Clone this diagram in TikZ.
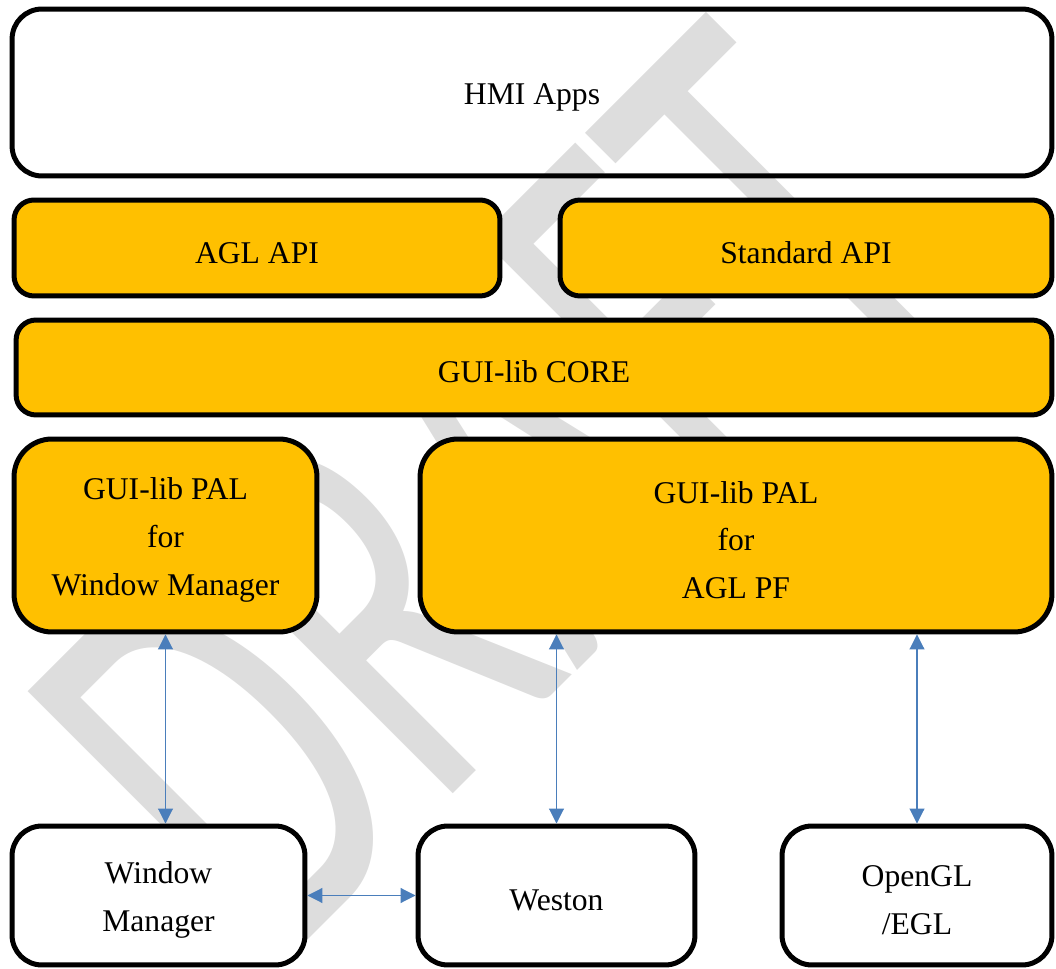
\documentclass[tikz,border=0pt]{standalone}
\usepackage{fontspec}
\setmainfont{Liberation Serif}
\newfontfamily\draftfont{Carlito}
\usetikzlibrary{arrows.meta}
\definecolor{amber}{RGB}{255,192,0}
\definecolor{linkblue}{RGB}{74,126,187}
\definecolor{draftgray}{RGB}{221,221,221}
\newcommand{\lift}{\rule{0pt}{0.98em}}% first line sits a bit lower
\tikzset{
  layer/.style = {align=center, inner sep=0pt, text centered, draw=black,
    line width=0.1cm, font=\fontsize{18}{27.2}\selectfont},
  hmi_box/.style = {layer, rectangle, rounded corners=0.6cm,
    minimum width=20.8cm, minimum height=3.34cm},% apps, no fill
  api_box/.style = {layer, rectangle, rounded corners=0.4cm, fill=amber,
    minimum height=1.92cm},
  pal_box/.style = {layer, rectangle, rounded corners=0.76cm, fill=amber,
    minimum height=3.86cm},
  low_box/.style = {layer, rectangle, rounded corners=0.6cm, fill=white,
    minimum height=2.78cm},% platform pieces
  link/.style = {linkblue, line width=0.6pt, <->,
    >={Triangle[length=0.3cm,width=0.3cm]}},
}
\begin{document}
\begin{tikzpicture}[x=0.02cm,y=-0.02cm]
  \useasboundingbox (0,0) rectangle (1056,969);

  % watermark
  \begin{scope}[shift={(492,491)}]
    \node[text=draftgray, inner sep=0pt, font=\draftfont\fontsize{210}{210}\selectfont,
      rotate=45, yscale=1.578, transform shape] (draft) at (0,0) {DRAFT};
  \end{scope}

  \node[hmi_box] (hmi) at (532,92.5) {\lift HMI Apps};

  \node[api_box, minimum width=9.72cm] (agl) at (257,248) {\lift AGL API};
  \node[api_box, minimum width=9.84cm] (std) at (806,248) {\lift Standard API};
  \node[api_box, minimum width=20.72cm, minimum height=1.9cm] (core) at (534,367.5) {\lift GUI-lib CORE};

  \node[pal_box, minimum width=6.06cm] (palwm) at (165.5,535.5) {\lift GUI-lib PAL\\for\\Window Manager};
  \node[pal_box, minimum width=12.64cm] (palpf) at (736,535.5) {\lift GUI-lib PAL\\for\\AGL PF};

  \node[low_box, minimum width=5.86cm] (wm) at (158.5,895.5) {\lift Window\\Manager};
  \node[low_box, minimum width=5.54cm] (weston) at (556.5,895.5) {\lift Weston};
  \node[low_box, minimum width=5.4cm] (gl) at (917,895.5) {\lift OpenGL\\/EGL};

  %   PAL to platform
  \path[link] (palwm.south) edge (palwm.south |- wm.north);
  \path[link] (weston.north |- palpf.south) edge (weston.north);
  \path[link] (gl.north |- palpf.south) edge (gl.north);
  \path[link] (wm.east) edge (wm.east -| weston.west);
\end{tikzpicture}
\end{document}
